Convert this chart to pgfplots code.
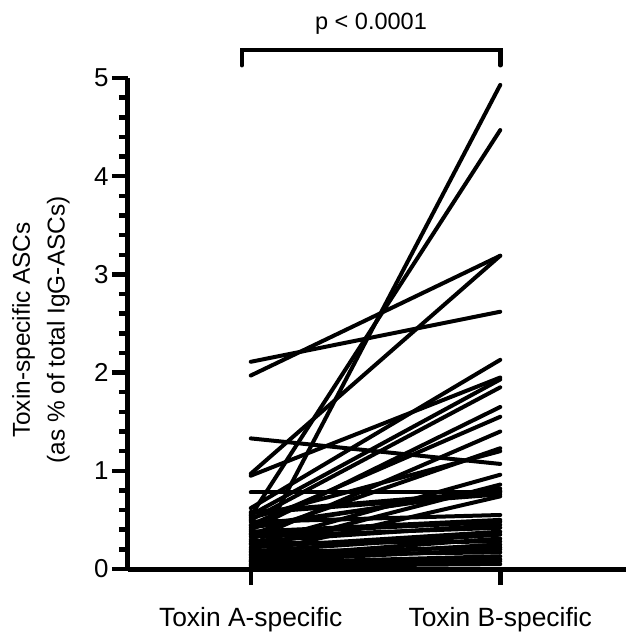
\documentclass[border=0pt]{standalone}
\usepackage{fontspec}
\setmainfont{Liberation Sans}
\usepackage{pgfplots}
\pgfplotsset{compat=1.18}
\begin{document}
\begin{tikzpicture}
\begin{axis}[
  scale only axis, width=498bp, height=491bp,
  xmin=-0.492, xmax=1.504, ymin=0, ymax=5,
  axis x line*=bottom, axis y line*=left,
  axis line style={line width=5bp, -},
  xtick={0,1}, xticklabels={Toxin A-specific, Toxin B-specific},
  ytick={0,1,2,3,4,5}, minor y tick num=4,
  tick align=outside,
  major tick length=16bp, minor tick length=9bp,
  every tick/.style={black, line width=4.5bp},
  every minor tick/.style={black, line width=4.5bp},
  yticklabel style={font=\fontsize{26}{26}\selectfont},
  xticklabel style={font=\fontsize{26.5}{26.5}\selectfont, yshift=-19bp},
  /pgf/number format/assume math mode=true,
  clip=false,
  pl/.style={black, line width=4bp, line cap=round, mark=none},
]
\addplot[pl] coordinates {(0,2.11) (1,2.62)};
\addplot[pl] coordinates {(0,1.97) (1,3.19)};
\addplot[pl] coordinates {(0,0.97) (1,3.19)};
\addplot[pl] coordinates {(0,0.08) (1,4.93)};
\addplot[pl] coordinates {(0,0.54) (1,4.47)};
\addplot[pl] coordinates {(0,1.33) (1,1.07)};
\addplot[pl] coordinates {(0,0.95) (1,1.95)};
\addplot[pl] coordinates {(0,0.78) (1,0.78)};
\addplot[pl] coordinates {(0,0.62) (1,2.13)};
\addplot[pl] coordinates {(0,0.55) (1,1.93)};
\addplot[pl] coordinates {(0,0.50) (1,1.85)};
\addplot[pl] coordinates {(0,0.40) (1,1.65)};
\addplot[pl] coordinates {(0,0.45) (1,1.55)};
\addplot[pl] coordinates {(0,0.30) (1,1.40)};
\addplot[pl] coordinates {(0,0.35) (1,1.23)};
\addplot[pl] coordinates {(0,0.52) (1,1.20)};
\addplot[pl] coordinates {(0,0.25) (1,0.96)};
\addplot[pl] coordinates {(0,0.20) (1,0.86)};
\addplot[pl] coordinates {(0,0.42) (1,0.82)};
\addplot[pl] coordinates {(0,0.58) (1,0.79)};
\addplot[pl] coordinates {(0,0.15) (1,0.74)};
\addplot[pl] coordinates {(0,0.44) (1,0.80)};
\addplot[pl] coordinates {(0,0.57) (1,0.76)};
\addplot[pl] coordinates {(0,0.48) (1,0.55)};
\addplot[pl] coordinates {(0,0.38) (1,0.50)};
\addplot[pl] coordinates {(0,0.36) (1,0.48)};
\addplot[pl] coordinates {(0,0.28) (1,0.45)};
\addplot[pl] coordinates {(0,0.33) (1,0.42)};
\addplot[pl] coordinates {(0,0.22) (1,0.38)};
\addplot[pl] coordinates {(0,0.18) (1,0.35)};
\addplot[pl] coordinates {(0,0.12) (1,0.31)};
\addplot[pl] coordinates {(0,0.26) (1,0.28)};
\addplot[pl] coordinates {(0,0.10) (1,0.25)};
\addplot[pl] coordinates {(0,0.17) (1,0.22)};
\addplot[pl] coordinates {(0,0.08) (1,0.20)};
\addplot[pl] coordinates {(0,0.14) (1,0.17)};
\addplot[pl] coordinates {(0,0.06) (1,0.13)};
\addplot[pl] coordinates {(0,0.05) (1,0.10)};
\addplot[pl] coordinates {(0,0.04) (1,0.08)};
\addplot[pl] coordinates {(0,0.03) (1,0.05)};
\draw[line width=4.5bp, line cap=round] (axis cs:-0.036,5.13) -- (axis cs:-0.036,5.285) -- (axis cs:1,5.285) -- (axis cs:1,5.13);
\node[font=\fontsize{23.6}{23.6}\selectfont] at (axis cs:0.482,5.55) {p < 0.0001};
\end{axis}
\node[rotate=90, align=center, font=\fontsize{24.5}{35}\selectfont] at (-87bp,239bp) {Toxin-specific ASCs\\(as \% of total IgG-ASCs)};
\pgfresetboundingbox
\path (-128bp,-65bp) rectangle (498bp,569bp);
\end{tikzpicture}
\end{document}
